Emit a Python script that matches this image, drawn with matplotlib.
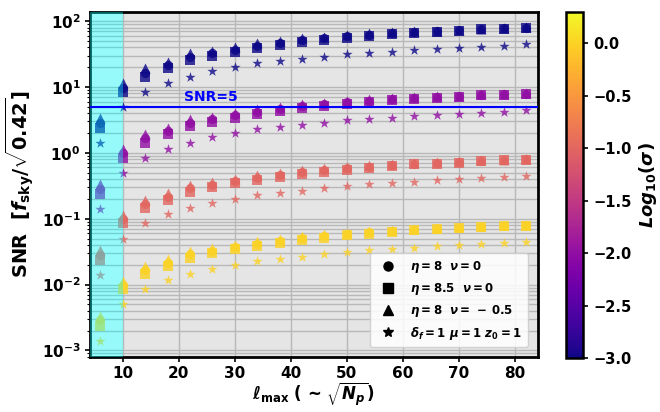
import matplotlib
matplotlib.use("Agg")
import matplotlib.pyplot as plt
import numpy as np
from matplotlib.lines import Line2D

# =========================================
# DATA
# =========================================
ell_max = [6, 10, 14, 18, 22, 26, 30, 34, 38, 42, 46, 50, 54, 58, 62, 66, 70, 74, 78, 82]
log_sigma = [-3, -2, -1, 0]

# SNR for log10(sigma) = -3 ; SNR scales as 1/sigma
snr_circle = [2.85, 9.8, 16.6, 21.6, 28.8, 32.6, 37.0, 42.0, 46.5, 51.0, 54.6, 58.5, 62.0, 65.0, 68.2, 70.3, 72.5, 75.6, 77.6, 79.6]
snr_square = [2.38, 8.5, 14.3, 19.2, 25.6, 29.8, 34.4, 38.6, 43.4, 47.7, 51.5, 55.8, 59.2, 63.0, 66.6, 68.9, 71.3, 74.8, 76.6, 78.3]
snr_triangle = [3.38, 11.4, 19.2, 24.2, 32.4, 35.6, 39.9, 45.9, 49.8, 54.7, 57.9, 61.4, 65.0, 67.5, 70.0, 72.0, 74.0, 77.0, 79.0, 81.0]
snr_star = [1.41, 5.0, 8.5, 11.6, 14.3, 17.5, 19.9, 22.9, 24.8, 26.6, 28.8, 31.3, 33.1, 34.3, 36.3, 38.1, 39.4, 40.8, 42.3, 44.3]

labels = [r"$\eta = 8\ \ \nu = 0$",
          r"$\eta = 8.5\ \ \nu = 0$",
          r"$\eta = 8\ \ \nu = \,-\,0.5$",
          r"$\delta_f = 1\ \mu = 1\ z_0 = 1$"]

# =========================================
# STYLE
# =========================================
plt.rcParams["font.weight"] = "bold"
plt.rcParams["mathtext.fontset"] = "custom"
plt.rcParams["mathtext.rm"] = "DejaVu Sans:bold"
plt.rcParams["mathtext.it"] = "DejaVu Sans:italic:bold"
plt.rcParams["mathtext.bf"] = "DejaVu Sans:bold"

AX_BG = "#e5e5e5"
GRID = "#b8b8b8"
CMAP = plt.get_cmap("plasma")
norm = matplotlib.colors.Normalize(vmin=-3.0, vmax=0.3)

fig = plt.figure(figsize=(6.6, 4.12), dpi=100)
ax = fig.add_axes([0.136, 0.134, 0.679, 0.837])
cax = fig.add_axes([0.858, 0.131, 0.026, 0.840])

ax.set_facecolor(AX_BG)
ax.set_yscale("log")
ax.set_xlim(4.1, 84.1)
ax.set_ylim(8.0e-4, 1.38e2)

# =========================================
# POINTS
# =========================================
series = [(snr_circle, "o", 44), (snr_square, "s", 44),
          (snr_triangle, "^", 52), (snr_star, "*", 60)]
x = np.array(ell_max)
for ls in log_sigma:
    col = CMAP(norm(ls))
    scale = 10.0 ** (-3 - ls)
    for vals, mk, sz in series:
        ax.scatter(x, np.array(vals) * scale, marker=mk, s=sz,
                   color=col, alpha=0.8, linewidths=0, zorder=3)

# shaded low-ell region: light base under the grid + cyan tint over the points
ax.axvspan(4.1, 10, color="#f2f8f8", lw=0, zorder=0.3)
ax.axvspan(4.1, 10, color="cyan", alpha=0.38, lw=0, zorder=4)

# SNR = 5 threshold
ax.axhline(5, color="blue", lw=1.5, zorder=5)
ax.text(21, 5.5, "SNR=5", color="blue", fontsize=10, fontweight="bold",
        ha="left", va="bottom", zorder=6)

# =========================================
# GRID / AXES
# =========================================
ax.set_xticks([10, 20, 30, 40, 50, 60, 70, 80])
ax.grid(True, which="major", axis="x", color=GRID, lw=1.0)
ax.grid(True, which="both", axis="y", color=GRID, lw=1.0)
ax.set_axisbelow(True)
for s in ax.spines.values():
    s.set_linewidth(2.0)
    s.set_color("black")
ax.tick_params(axis="both", which="major", labelsize=11, width=1.2, pad=3)
ax.tick_params(axis="y", which="minor", width=0.8)
for t in ax.get_xticklabels():
    t.set_fontweight("bold")

ax.set_xlabel(r"$\ell_{\rm max}$ ( ~ $\sqrt{N_p}$)", fontsize=12,
              fontweight="bold", labelpad=0)
ax.set_ylabel(r"SNR  [$f_{\rm sky}/\sqrt{0.42}$]", fontsize=14,
              fontweight="bold", labelpad=4)

# legend with black markers
handles = [Line2D([], [], ls="", marker=m, color="black", markersize=ms)
           for m, ms in [("o", 6.5), ("s", 6.5), ("^", 6.5), ("*", 7.5)]]
leg = ax.legend(handles, labels, loc="lower right", fontsize=8.5,
                framealpha=0.85, handletextpad=0.9, borderpad=0.5,
                labelspacing=0.5, bbox_to_anchor=(0.99, 0.01))
leg.set_zorder(7)

# =========================================
# COLORBAR
# =========================================
sm = matplotlib.cm.ScalarMappable(norm=norm, cmap=CMAP)
cb = fig.colorbar(sm, cax=cax)
cb.set_ticks([-3.0, -2.5, -2.0, -1.5, -1.0, -0.5, 0.0])
cb.ax.tick_params(labelsize=10.5, width=1.2)
cb.outline.set_linewidth(1.8)
for t in cb.ax.get_yticklabels():
    t.set_fontweight("bold")
cb.set_label(r"$Log_{10}(\sigma)$", fontsize=13, fontweight="bold")

fig.savefig("out.png", dpi=100, facecolor="white")
